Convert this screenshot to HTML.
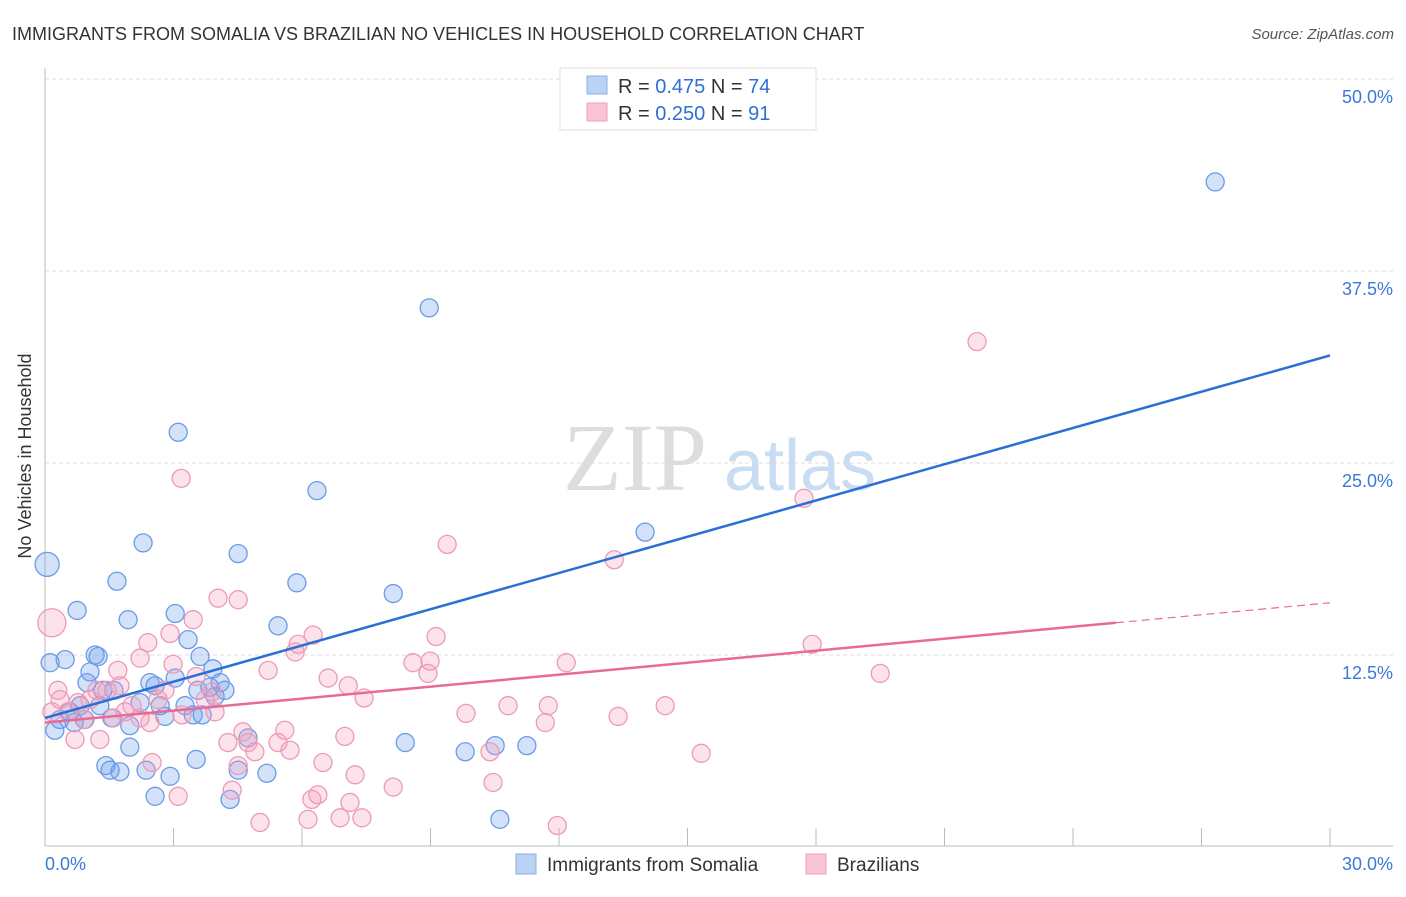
<!DOCTYPE html>
<html><head><meta charset="utf-8"><style>
body{margin:0;background:#fff;font-family:"Liberation Sans",sans-serif}
svg text{font-family:"Liberation Sans",sans-serif}
</style></head><body>
<svg width="1406" height="892" id="c">
<text x="12" y="40" font-size="18" fill="#333">IMMIGRANTS FROM SOMALIA VS BRAZILIAN NO VEHICLES IN HOUSEHOLD CORRELATION CHART</text>
<text x="1394" y="39" font-size="15" fill="#555" text-anchor="end" font-style="italic">Source: ZipAtlas.com</text>
<g>
<text x="635" y="490" font-size="96" fill="#ddd" text-anchor="middle" font-family="Liberation Serif" style="font-family:'Liberation Serif',serif">ZIP</text>
<text x="800" y="490" font-size="72" fill="#c8dcf2" text-anchor="middle">atlas</text>
</g>
<g id="grid"></g>
<line x1="45" y1="68" x2="45" y2="846" stroke="#bbb"/>
<line x1="45" y1="846" x2="1393" y2="846" stroke="#bbb"/>
<text x="31" y="456" font-size="18" fill="#333" text-anchor="middle" transform="rotate(-90 31 456)">No Vehicles in Household</text>
<g id="ticks"></g>
<g id="pts"></g>
<g id="lines"></g>
<g>
<rect x="560" y="68" width="256" height="62" fill="#fff" stroke="#ddd"/>
<rect x="587" y="76" width="20" height="18" fill="#b8d3f5" stroke="#8ab0e8"/>
<rect x="587" y="103" width="20" height="18" fill="#f9c5d5" stroke="#eda0ba"/>
<text x="618" y="93" font-size="20" fill="#333">R = <tspan fill="#2e6fd8">0.475</tspan>   N = <tspan fill="#2e6fd8">74</tspan></text>
<text x="618" y="120" font-size="20" fill="#333">R = <tspan fill="#2e6fd8">0.250</tspan>   N = <tspan fill="#2e6fd8"> 91</tspan></text>
</g>
<g>
<rect x="516" y="854" width="20" height="20" fill="#b8d3f5" stroke="#8ab0e8"/>
<text x="547" y="871" font-size="19" fill="#333">Immigrants from Somalia</text>
<rect x="806" y="854" width="20" height="20" fill="#f9c5d5" stroke="#eda0ba"/>
<text x="837" y="871" font-size="19" fill="#333">Brazilians</text>
</g>
</svg>
<script>
const yTicks=[12.5,25,37.5,50];
const yTickLabels=["12.5%","25.0%","37.5%","50.0%"];
const xTickVals=[0,3,6,9,12,15,18,21,24,27,30];
const blueX=[0.05,0.75,0.12,0.47,1.17,1.24,1.05,1.68,1.94,2.29,3.11,3.04,3.34,3.62,3.92,4.51,5.44,5.88,6.35,8.13,8.97,14.01,27.32,0.98,1.35,1.61,2.45,2.57,3.04,3.57,3.85,4.09,4.2,3.97,3.27,2.8,2.22,1.98,1.56,1.28,0.82,0.58,0.35,0.23,1.98,1.42,1.52,1.75,2.36,2.92,2.57,3.53,4.32,4.51,4.74,5.18,8.41,9.81,10.51,11.25,10.62,2.69,3.46,3.67,0.93,0.68];
const blueY=[18.4,15.4,12.0,12.2,12.5,12.4,11.4,17.3,14.8,19.8,27.0,15.2,13.5,12.4,11.6,19.1,14.4,17.2,23.2,16.5,35.1,20.5,43.3,10.7,10.2,10.2,10.7,10.5,11.0,10.2,10.4,10.7,10.2,9.8,9.2,8.5,9.4,7.9,8.4,9.2,9.2,8.8,8.3,7.6,6.5,5.3,5.0,4.9,5.0,4.6,3.3,5.7,3.1,5.0,7.1,4.8,6.8,6.2,6.6,6.6,1.8,9.2,8.6,8.6,8.3,8.1];
const pinkX=[0.16,0.3,0.35,0.16,0.54,0.77,1.05,1.21,0.91,1.28,0.7,1.7,1.87,2.03,2.22,2.4,2.5,2.64,2.8,2.92,2.99,3.11,3.18,3.2,3.46,3.53,3.74,3.9,4.04,3.97,4.27,4.37,4.51,4.51,4.62,4.74,4.9,5.02,5.21,5.44,5.6,5.72,5.84,5.91,6.14,6.23,6.37,6.26,6.49,6.61,6.89,7.0,7.08,7.12,7.24,7.4,7.45,8.13,8.59,8.94,8.99,9.13,9.39,9.83,10.46,10.39,10.81,11.68,11.75,11.96,12.17,13.29,13.38,14.48,15.32,17.72,17.91,19.5,21.76,1.59,2.45,2.22,1.75,1.45];
const pinkY=[14.6,10.2,9.6,8.8,8.8,9.4,9.6,10.2,8.3,7.0,7.0,11.5,8.8,9.2,12.3,13.3,5.5,9.6,10.2,13.9,11.9,3.3,24.0,8.6,14.8,11.1,9.6,10.1,16.2,8.8,6.8,3.7,16.1,5.3,7.5,6.8,6.2,1.6,11.5,6.8,7.6,6.3,12.7,13.2,1.8,3.1,3.4,13.8,5.5,11.0,1.9,7.2,10.5,2.9,4.7,1.9,9.7,3.9,12.0,11.3,12.1,13.7,19.7,8.7,4.2,6.2,9.2,8.1,9.2,1.4,12.0,18.7,8.5,9.2,6.1,22.7,13.2,11.3,32.9,8.4,8.1,8.4,10.5,10.2];
const blueTrend=[[0,8.4],[30,32.0]];
const pinkTrend=[[0,8.1],[25,14.6],[30,15.9]];
const NS="http://www.w3.org/2000/svg";
const sx=v=>45+v/30*1285;
const sy=v=>847-v/12.5*192;
function mk(tag,attrs,parent){const e=document.createElementNS(NS,tag);for(const k in attrs)e.setAttribute(k,attrs[k]);document.getElementById(parent).appendChild(e);return e;}
yTicks.forEach((t,i)=>{
  const l=mk('line',{x1:45,x2:1393,y1:sy(t),y2:sy(t),stroke:'#ddd','stroke-dasharray':'4,3'},'grid');
  
  
  const tx=mk('text',{x:1393,y:sy(t)+24,'font-size':18,fill:'#3c78d8','text-anchor':'end'},'ticks');
  tx.textContent=yTickLabels[i];
  
  
});
xTickVals.forEach(t=>{
  if(t===0)return;
  const l=mk('line',{x1:sx(t),x2:sx(t),y1:828,y2:846,stroke:'#bbb'},'ticks');
  
  
});
const xl0=mk('text',{x:45,y:870,'font-size':18,fill:'#3c78d8'},'ticks');xl0.textContent='0.0%';


const xl1=mk('text',{x:1393,y:870,'font-size':18,fill:'#3c78d8','text-anchor':'end'},'ticks');xl1.textContent='30.0%';


blueX.forEach((x,i)=>{
  const c=mk('circle',{cx:sx(x),cy:sy(blueY[i]),r:i===0?12:9,fill:'rgba(110,160,235,0.3)',stroke:'#6a9be5','stroke-width':1.3},'pts');
  
  
});
pinkX.forEach((x,i)=>{
  const c=mk('circle',{cx:sx(x),cy:sy(pinkY[i]),r:i===0?14:9,fill:'rgba(245,160,190,0.3)',stroke:'#ec9ab7','stroke-width':1.3},'pts');
  
  
});
const bl=mk('line',{x1:sx(blueTrend[0][0]),y1:sy(blueTrend[0][1]),x2:sx(blueTrend[1][0]),y2:sy(blueTrend[1][1]),stroke:'#2a6fd6','stroke-width':2.5},'lines');


const pl=mk('line',{x1:sx(pinkTrend[0][0]),y1:sy(pinkTrend[0][1]),x2:sx(pinkTrend[1][0]),y2:sy(pinkTrend[1][1]),stroke:'#e86b96','stroke-width':2.5},'lines');


const pd=mk('line',{x1:sx(pinkTrend[1][0]),y1:sy(pinkTrend[1][1]),x2:sx(pinkTrend[2][0]),y2:sy(pinkTrend[2][1]),stroke:'#e86b96','stroke-width':1.2,'stroke-dasharray':'8,5'},'lines');


</script>
</body></html>
